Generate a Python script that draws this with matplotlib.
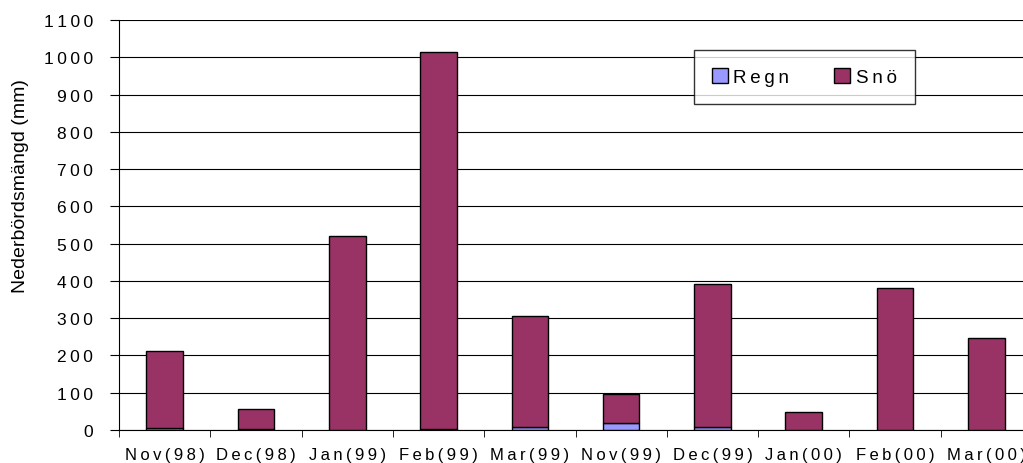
import numpy as np
import matplotlib.pyplot as plt
from matplotlib.patches import Patch

plt.rcParams['font.family'] = ['Liberation Sans', 'DejaVu Sans']

months = ["Nov(98)", "Dec(98)", "Jan(99)", "Feb(99)", "Mar(99)",
          "Nov(99)", "Dec(99)", "Jan(00)", "Feb(00)", "Mar(00)"]
regn = [6, 2, 0, 3, 9, 20, 9, 0, 1, 1]
sno_total = [212, 56, 520, 1014, 306, 96, 392, 47, 381, 248]
sno = [t - r for t, r in zip(sno_total, regn)]

c_regn = "#9999FF"
c_sno = "#993366"


def spaced(s):
    # excel style letter spacing
    return "\u2009".join(s)


fig = plt.figure(figsize=(10.23, 4.64), dpi=100)
ax = fig.add_axes([119 / 1023, 33 / 464, 913 / 1023, 410 / 464])

x = np.arange(len(months))
ax.bar(x, regn, width=0.4, color=c_regn, edgecolor="black", linewidth=1, zorder=3)
ax.bar(x, sno, width=0.4, bottom=regn, color=c_sno, edgecolor="black", linewidth=1, zorder=3)

ax.set_xlim(-0.5, len(months) - 0.5)
ax.set_ylim(0, 1100)
ax.set_yticks(np.arange(0, 1101, 100))
ax.set_yticklabels([spaced(str(v)) for v in range(0, 1101, 100)], fontsize=12.5)
ax.yaxis.grid(True, color="black", linewidth=0.8, zorder=0)

ax.set_xticks(x)
ax.set_xticklabels([spaced(m) for m in months], fontsize=12)
ax.set_xticks(np.arange(-0.5, len(months) + 0.5, 1), minor=True)
ax.tick_params(axis="x", which="major", length=0, pad=12)
ax.tick_params(axis="x", which="minor", length=5, direction="out")
ax.tick_params(axis="y", length=6.5, direction="out", pad=12)

ax.spines["top"].set_visible(False)
ax.spines["right"].set_visible(False)
fig.text(21 / 1023, 1 - 186 / 464, "Nederbördsmängd (mm)", fontsize=14,
         rotation=90, ha="center", va="center")

handles = [Patch(facecolor=c_regn, edgecolor="black", label=spaced("Regn")),
           Patch(facecolor=c_sno, edgecolor="black", label=spaced("Snö"))]
leg = ax.legend(handles=handles, ncol=2, loc="upper left",
                bbox_to_anchor=(694 / 1023, 1 - 51 / 464), bbox_transform=fig.transFigure,
                fontsize=13.5, frameon=True, fancybox=False, handlelength=0.85,
                handleheight=0.85, handletextpad=0.3, columnspacing=2.4,
                borderpad=0.95, borderaxespad=0)
leg.get_frame().set_edgecolor("black")
leg.get_frame().set_linewidth(1)

fig.savefig("out.png", dpi=100)
